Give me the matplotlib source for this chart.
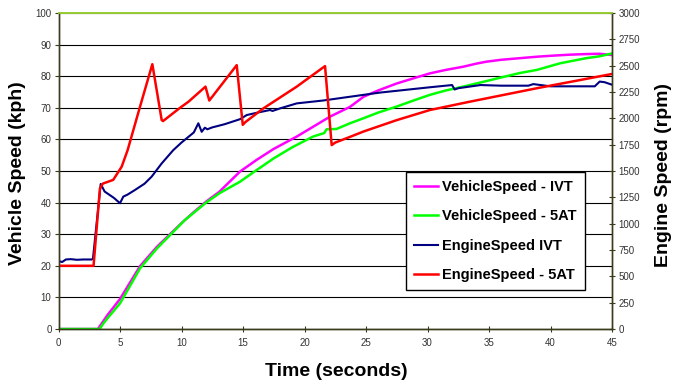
import matplotlib
matplotlib.use('Agg')
import matplotlib.pyplot as plt

plt.rcParams['font.family'] = ['Liberation Sans', 'DejaVu Sans']

# Vehicle speed IVT (kph)
t_vs_ivt = [0, 3.2, 4, 5, 6.63, 8, 10, 11, 12, 13.1, 14.75, 16.1, 17.5, 19.37, 20.7,
            22.07, 23.7, 24.8, 26, 27.5, 29, 30.2, 31.5, 32.9, 34, 34.8, 36, 37.5, 39,
            40.2, 41.5, 42.9, 44, 45]
vs_ivt = [0, 0, 4.5, 9.5, 19.9, 26, 33.5, 37, 40.3, 43.5, 49.8, 53.5, 57, 60.9, 64,
          67.2, 70.3, 73.5, 75.5, 77.7, 79.5, 80.9, 82, 83, 84, 84.6, 85.2, 85.7, 86.2,
          86.5, 86.8, 87, 87.1, 86.7]

# Vehicle speed 5AT (kph)
t_vs_5at = [0, 3.35, 3.6, 4, 5, 6.63, 8, 10, 10.28, 12, 13.1, 14.75, 16, 17.5, 19,
            20.7, 21.6, 21.8, 22.6, 23.7, 24.8, 26, 27.5, 29, 30.2, 31.5, 32.9, 34.3,
            36.2, 37.5, 38.9, 40.8, 42.9, 44, 45]
vs_5at = [0, 0, 1.5, 3.5, 8.1, 19.2, 25.5, 33.4, 34.5, 40, 43, 46.6, 50, 54, 57.5,
          60.9, 62, 63.2, 63.3, 65.1, 66.7, 68.5, 70.4, 72.5, 74.1, 75.5, 76.7, 78,
          79.8, 81, 82, 84.1, 85.7, 86.3, 87.2]

# Engine speed IVT (rpm)
t_es_ivt = [0, 0.3, 0.6, 1, 1.5, 2, 2.7, 2.8, 3.43, 3.75, 4.5, 5.0, 5.27, 5.6, 6.22, 7,
            7.57, 8.39, 9.33, 10, 11, 11.37, 11.64, 11.9, 12.1, 12.5, 13.5, 14.76, 15.3,
            16.2, 17.2, 17.4, 18, 19.37, 21.5, 23.7, 26.1, 30.2, 32.0, 32.2, 32.5, 34.3,
            36, 38.2, 38.6, 39.2, 40, 42, 43.6, 44.0, 44.4, 45]
es_ivt = [645, 636, 660, 663, 657, 660, 660, 666, 1377, 1305, 1245, 1194, 1257, 1275,
          1320, 1380, 1446, 1572, 1698, 1770, 1866, 1953, 1872, 1911, 1896, 1914, 1944,
          1992, 2031, 2055, 2079, 2070, 2094, 2142, 2169, 2205, 2244, 2295, 2316, 2274,
          2286, 2316, 2310, 2310, 2325, 2316, 2304, 2304, 2304, 2349, 2343, 2319]

# Engine speed 5AT (rpm)
t_es_5at = [0, 2.85, 3.37, 3.6, 4.45, 5.14, 5.62, 6.63, 7.63, 8.39, 8.5, 9.88, 10.56,
            11.95, 12.26, 14.49, 14.98, 15.2, 16.65, 19.37, 21.67, 22.21, 22.5, 23.7,
            24.8, 27.5, 30.2, 33.4, 38.9, 45]
es_5at = [600, 600, 1335, 1380, 1416, 1542, 1698, 2112, 2514, 1983, 1974, 2100, 2157,
          2301, 2169, 2505, 1938, 1965, 2094, 2301, 2496, 1746, 1770, 1824, 1875, 1983,
          2079, 2157, 2286, 2421]

spine_col = '#3a3a1c'
tick_col = '#333333'

fig = plt.figure(figsize=(6.74, 3.85), dpi=100)
ax = fig.add_axes([58.5 / 674, 56 / 385, 553.5 / 674, 316 / 385])
ax2 = ax.twinx()

ax.set_xlim(0, 45)
ax.set_ylim(0, 100)
ax2.set_ylim(0, 3000)

ax.set_yticks(range(0, 101, 10))
ax.set_xticks(range(0, 46, 5))
ax2.set_yticks(range(0, 3001, 250))
ax.grid(axis='y', color='black', linewidth=0.8)
ax.set_axisbelow(True)

# spines: dark olive frame, yellow-green top edge
for a in (ax, ax2):
    for side in ('left', 'right', 'bottom'):
        a.spines[side].set_color(spine_col)
        a.spines[side].set_linewidth(1.0)
    a.spines['top'].set_color('#99cc33')
    a.spines['top'].set_linewidth(1.2)

ax.tick_params(axis='y', direction='out', length=3, labelsize=7, labelcolor=tick_col,
               color=spine_col, pad=2)
ax.tick_params(axis='x', direction='inout', length=5, labelsize=7, labelcolor=tick_col,
               color=spine_col, pad=4)
ax2.tick_params(axis='y', direction='inout', length=5, labelsize=7, labelcolor=tick_col,
                color=spine_col, pad=2)

l1, = ax.plot(t_vs_ivt, vs_ivt, color='#ff00ff', linewidth=1.8,
              label='VehicleSpeed - IVT')
l2, = ax.plot(t_vs_5at, vs_5at, color='#00ff00', linewidth=1.8,
              label='VehicleSpeed - 5AT')
l3, = ax2.plot(t_es_ivt, es_ivt, color='#000080', linewidth=1.5,
               label='EngineSpeed IVT')
l4, = ax2.plot(t_es_5at, es_5at, color='#ff0000', linewidth=1.8,
               label='EngineSpeed - 5AT')

leg = ax2.legend(handles=[l1, l2, l3, l4], loc='upper left',
                 bbox_to_anchor=(0.614, 0.52), frameon=True, fancybox=False,
                 edgecolor='black', framealpha=1, borderpad=0.55,
                 prop={'weight': 'bold', 'size': 10.5}, handlelength=1.65,
                 handletextpad=0.3, labelspacing=1.05)
leg.get_frame().set_linewidth(1.0)

fig.text(18 / 674, 1 - 173.5 / 385, 'Vehicle Speed (kph)', rotation=90,
         ha='center', va='center', fontsize=14, fontweight='bold')
fig.text(663 / 674, 1 - 175 / 385, 'Engine Speed (rpm)', rotation=90,
         ha='center', va='center', fontsize=14, fontweight='bold')
fig.text(336 / 674, 1 - 371 / 385, 'Time (seconds)', ha='center', va='center',
         fontsize=14, fontweight='bold')

fig.savefig('out.png', dpi=100)
